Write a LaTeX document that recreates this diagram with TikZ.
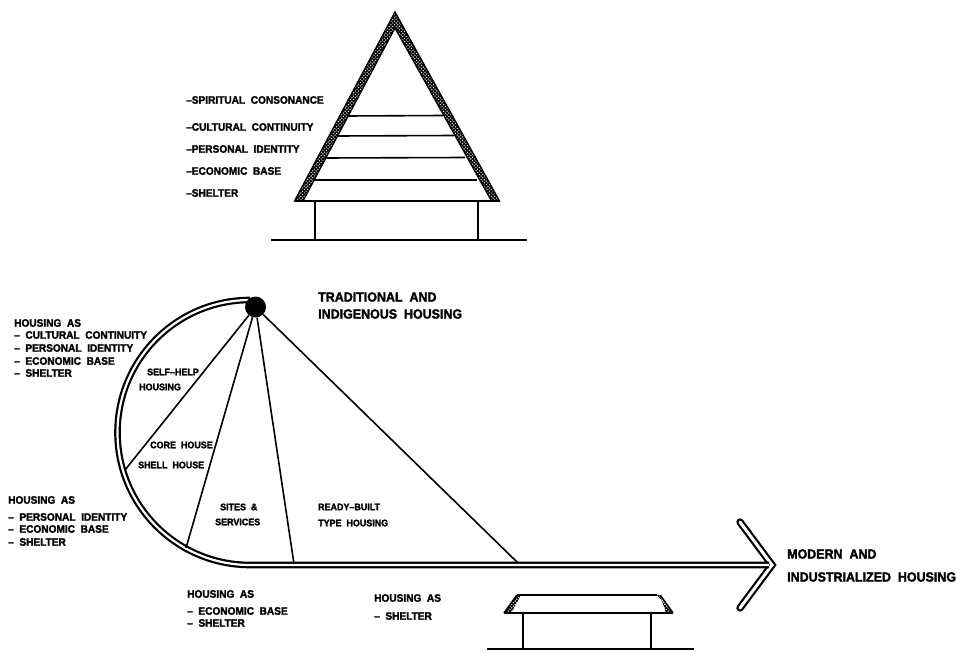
\documentclass[tikz,border=0pt]{standalone}
\usepackage{fontspec}
\setmainfont{Liberation Sans}[BoldFeatures={FakeBold=2,FakeStretch=0.94}]
\usetikzlibrary{patterns,positioning,calc}
\pgfdeclarepatternformonly{roofhatch}{\pgfqpoint{-1pt}{-1pt}}{\pgfqpoint{4pt}{4pt}}{\pgfqpoint{3.4pt}{3.4pt}}{
\pgfsetlinewidth{1.1pt}
\pgfpathmoveto{\pgfqpoint{0pt}{0pt}}
\pgfpathlineto{\pgfqpoint{3.4pt}{3.4pt}}
\pgfpathmoveto{\pgfqpoint{0pt}{3.4pt}}
\pgfpathlineto{\pgfqpoint{3.4pt}{0pt}}
\pgfusepath{stroke}}
\tikzset{
lbl/.style={anchor=west,inner sep=0pt,font=\fontsize{10.75}{12}\selectfont\bfseries},
lblin/.style={anchor=west,inner sep=0pt,font=\fontsize{9.5}{12}\selectfont\bfseries},
lblbig/.style={anchor=west,inner sep=0pt,font=\fontsize{13.25}{15}\selectfont\bfseries},
wall/.style={line width=1.6pt},
post/.style={line width=2.4pt},
hatchband/.style={line width=1.3pt,pattern=roofhatch,pattern color=black},
dbl/.style={line width=2.2pt,black,double=white,double distance=2.2pt,line join=miter},
}
\begin{document}
\begin{tikzpicture}[x=1pt,y=-1pt]
\useasboundingbox (0,0) rectangle (958,652);
% tall house
\draw[hatchband] (395,12) -- (499.5,201) -- (491.5,201) -- (395,28) -- (303,201) -- (294.5,201) -- cycle;
\draw[wall] (294.5,201) -- (499.5,201);
\draw[wall] (348,116) -- (443,115.5);
\draw[wall] (338,136) -- (454,135.5);
\draw[wall] (325,158) -- (465,157.5);
\draw[wall] (314,180) -- (477,180);
\draw[post] (315,201) -- (315,240);
\draw[post] (478,201) -- (478,240);
\draw[post] (271,240) -- (527,240);
\node[lbl] (spirit) at (186,100) {--SPIRITUAL\ \ CONSONANCE};
\node[lbl] (culture) at (186,127) {--CULTURAL\ \ CONTINUITY};
\node[lbl] (person) at (186,149) {--PERSONAL\ \ IDENTITY};
\node[lbl] (econ) at (186,171) {--ECONOMIC\ \ BASE};
\node[lbl] (shelter) at (186,193) {--SHELTER};
% path to modern housing
\coordinate (top) at (250,300);
\coordinate (shaft) at (769,565);
\coordinate (tip) at (772,565);
\coordinate (headup) at (740,522);
\coordinate (headdown) at (740,608);
\coordinate (selfhelp) at (125,470);
\coordinate (core) at (186,548);
\coordinate (sites) at (294,564);
\coordinate (ready) at (518,563);
\draw[dbl,double distance=3pt,line cap=round] (headup) -- (tip) -- (headdown);
\draw[dbl] (top) arc[start angle=-90,end angle=-270,radius=132.5] -- (shaft);
\node[circle,fill=black,minimum size=21pt,inner sep=0pt] (dot) at (255.5,307) {};
\draw[wall] (dot) -- (selfhelp);
\draw[wall] (dot) -- (core);
\draw[wall] (dot) -- (sites);
\draw[wall] (dot) -- (ready);
\node[lblbig] (trad) at (318,297) {TRADITIONAL\ \ AND};
\node[lblbig] (indig) at (318,314) {INDIGENOUS\ \ HOUSING};
\node[lblbig] (modern) at (787,554) {MODERN\ \ AND};
\node[lblbig] (indust) at (787,577) {INDUSTRIALIZED\ \ HOUSING};
\node[lbl] (asa) at (14,323) {HOUSING\ \ AS};
\node[lbl] (asb) at (14,335) {--\ \ CULTURAL\ \ CONTINUITY};
\node[lbl] (asc) at (14,348) {--\ \ PERSONAL\ \ IDENTITY};
\node[lbl] (asd) at (14,361) {--\ \ ECONOMIC\ \ BASE};
\node[lbl] (ase) at (14,373) {--\ \ SHELTER};
\node[lbl] (bsa) at (8,500) {HOUSING\ \ AS};
\node[lbl] (bsb) at (8,517) {--\ \ PERSONAL\ \ IDENTITY};
\node[lbl] (bsc) at (8,529) {--\ \ ECONOMIC\ \ BASE};
\node[lbl] (bsd) at (8,542) {--\ \ SHELTER};
\node[lbl] (csa) at (187,594) {HOUSING\ \ AS};
\node[lbl] (csb) at (187,611) {--\ \ ECONOMIC\ \ BASE};
\node[lbl] (csc) at (187,623) {--\ \ SHELTER};
\node[lbl] (dsa) at (374,598) {HOUSING\ \ AS};
\node[lbl] (dsb) at (374,616) {--\ \ SHELTER};
\node[lblin] (self) at (147,372) {SELF--HELP};
\node[lblin] (housing) at (139,387) {HOUSING};
\node[lblin] (corehouse) at (150,445) {CORE\ \ HOUSE};
\node[lblin] (shell) at (138,465) {SHELL\ \ HOUSE};
\node[lblin] (sitesamp) at (220,507) {SITES\ \ \&};
\node[lblin] (services) at (215,522) {SERVICES};
\node[lblin] (readyb) at (318,507) {READY--BUILT};
\node[lblin] (typeh) at (318,523) {TYPE\ \ HOUSING};
% low house
\draw[wall] (517,595) -- (657,595);
\draw[wall] (504,613) -- (673,613);
\fill[pattern=roofhatch] (504,613) -- (517,595) -- (521,595) -- (511,613) -- cycle;
\fill[pattern=roofhatch] (673,613) -- (657,595) -- (660,595) -- (666,613) -- cycle;
\draw[wall] (504,613) -- (517,595);
\draw[wall] (673,613) -- (660,595);
\draw[post] (523,613) -- (523,649);
\draw[post] (651,613) -- (651,649);
\draw[post] (487,649) -- (694,649);
\end{tikzpicture}
\end{document}
